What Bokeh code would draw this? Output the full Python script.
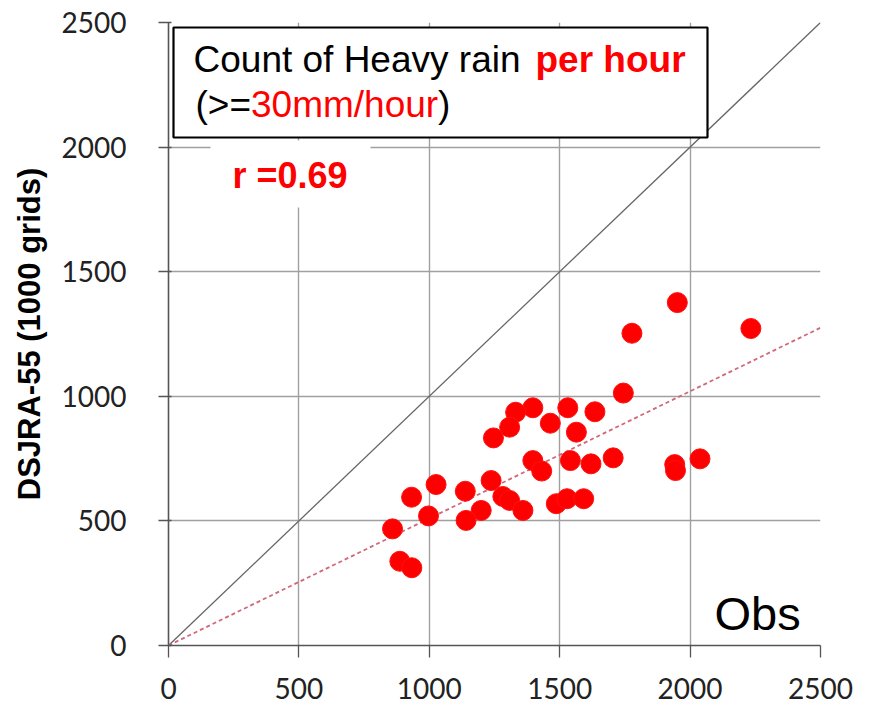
from bokeh.plotting import figure
from bokeh.models import Range1d, FixedTicker, BoxAnnotation, Label
from bokeh.embed import file_html
from bokeh.resources import INLINE

# ---- data ----
obs = [1026, 932, 997, 859, 887, 933,
       1951, 1777, 2233, 1744, 1397, 1331, 1531, 1635, 1464, 1308, 1564, 1246,
       1397, 1431, 1541, 1620, 1705, 1941, 1944, 2038, 1237, 1138, 1282, 1308,
       1359, 1199, 1141, 1487, 1528, 1592]
dsjra = [646, 595, 520, 468, 338, 312,
         1376, 1253, 1272, 1013, 954, 936, 954, 938, 892, 876, 856, 833,
         742, 700, 742, 729, 753, 726, 702, 749, 662, 619, 598, 582,
         542, 542, 502, 569, 589, 589]
one_to_one_x = [0, 2500]
one_to_one_y = [0, 2500]
fit_x = [0, 2500]
fit_y = [0, 1275]
ticks = [0, 500, 1000, 1500, 2000, 2500]

# ---- layout ----
W, H = 869, 707
FL, FR, FT, FB = 168, 820, 22, 645   # frame edges in pixels


def px2x(px):
    return (px - FL) / (FR - FL) * 2500


def px2y(py):
    return (FB - py) / (FB - FT) * 2500


p = figure(width=W, height=H, output_backend="svg", toolbar_location=None,
           x_range=Range1d(0, 2500), y_range=Range1d(0, 2500),
           min_border_left=FL, min_border_right=W - FR,
           min_border_top=FT, min_border_bottom=H - FB)
p.outline_line_color = None
p.background_fill_color = "white"
p.border_fill_color = "white"

for ax in (p.xaxis[0], p.yaxis[0]):
    ax.ticker = FixedTicker(ticks=ticks)
    ax.minor_tick_line_color = None
    ax.axis_line_color = "#555555"
    ax.axis_line_width = 1.6
    ax.major_tick_line_color = "#555555"
    ax.major_tick_line_width = 1.3
    ax.major_label_text_font = "Lato"
    ax.major_label_text_font_size = "28px"
    ax.major_label_text_color = "#222222"

p.yaxis.major_tick_out = 10
p.yaxis.major_tick_in = 3
p.yaxis.major_label_standoff = 32
p.yaxis.axis_label = "DSJRA-55 (1000 grids)"
p.yaxis.axis_label_text_font = "Liberation Sans"
p.yaxis.axis_label_text_font_style = "bold"
p.yaxis.axis_label_text_font_size = "31px"
p.yaxis.axis_label_text_color = "black"
p.yaxis.axis_label_standoff = 12

p.xaxis.major_tick_out = 12
p.xaxis.major_tick_in = 0
p.xaxis.major_label_standoff = 20

for g in (p.xgrid[0], p.ygrid[0]):
    g.ticker = FixedTicker(ticks=ticks)
    g.grid_line_color = "#a0a0a0"
    g.grid_line_width = 1.4

# 1:1 line and fit line
p.line(one_to_one_x, one_to_one_y, line_color="#666666", line_width=1.3)
p.line(fit_x, fit_y, line_color="#d06878", line_width=1.8, line_dash="4 3")

# points
p.scatter(obs, dsjra, size=20, fill_color="#ff0000", line_color="#ff1010",
          line_width=1)

# white patch behind the r label (hides grid)
p.add_layout(BoxAnnotation(left=px2x(210), right=px2x(370),
                           top=px2y(140), bottom=px2y(207),
                           fill_color="white", fill_alpha=1.0,
                           line_color=None))

# title box
p.add_layout(BoxAnnotation(left=px2x(173), right=px2x(707),
                           top=px2y(27), bottom=px2y(137),
                           fill_color="white", fill_alpha=1.0,
                           line_color="black", line_alpha=1.0,
                           line_width=2.2))

DY = -14  # baseline correction


def lab(text, px, py, color="black", size="37px", style="normal"):
    p.add_layout(Label(x=px2x(px), y=px2y(py + DY), text=text,
                       text_font="Liberation Sans", text_font_size=size,
                       text_font_style=style, text_color=color,
                       text_baseline="alphabetic", text_align="left"))


lab("Count of Heavy rain", 193, 73)
lab("per hour", 535, 73, color="#ff0000", style="bold")
lab("(>=", 195, 118)
lab("30mm/hour", 250.5, 118, color="#ff0000")
lab(")", 437.5, 118)
lab("r =0.69", 232, 189, color="#ff0000", size="36px", style="bold")
lab("Obs", 714, 627, size="47px")

open("out.html", "w").write(file_html(p, INLINE))
